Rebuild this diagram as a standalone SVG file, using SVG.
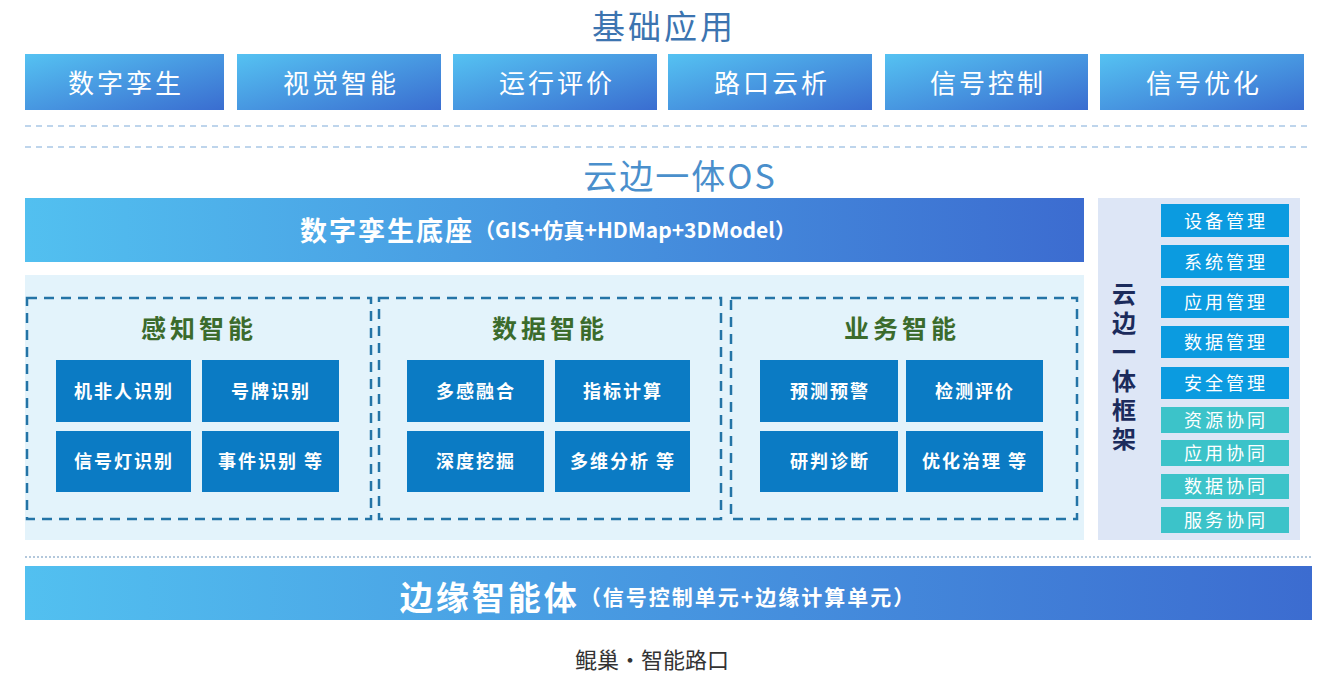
<svg xmlns="http://www.w3.org/2000/svg" width="1325" height="676" viewBox="0 0 1325 676">
<defs>
<linearGradient id="gTop" x1="0" y1="0" x2="1" y2="1"><stop offset="0" stop-color="#55c2f2"/><stop offset="1" stop-color="#3a6dd0"/></linearGradient>
<linearGradient id="gBar" x1="0" y1="0" x2="1" y2="0"><stop offset="0" stop-color="#52c0f0"/><stop offset="1" stop-color="#3c6cd0"/></linearGradient>
<style>
text{font-family:"Noto Sans CJK SC","Noto Sans",sans-serif;text-anchor:middle;dominant-baseline:central}
.top{fill:url(#gTop)}
.tt{fill:#fff;font-size:26px;letter-spacing:3px}
.dash{stroke:#a9c7e6;stroke-width:1.5;stroke-dasharray:6 5;fill:none}
.grp{fill:none;stroke:#2474a6;stroke-width:2.5;stroke-dasharray:10 7}
.gt{fill:#3b6b2c;font-size:25px;font-weight:bold;letter-spacing:4px}
.ib{fill:#0b7bc4}
.it{fill:#fff;font-size:18px;font-weight:bold;letter-spacing:2px}
.mb{fill:#0b9be0}
.cb{fill:#3cc3c9}
.rt{fill:#fff;font-size:18px;letter-spacing:3px}
.vt{fill:#1b2b5c;font-size:24px;font-weight:bold;writing-mode:vertical-rl;text-anchor:start;letter-spacing:5px}
</style>
</defs>
<rect width="1325" height="676" fill="#fff"/>
<text x="664" y="25" style="fill:#3c74b0;font-size:33px;letter-spacing:3px">基础应用</text>
<g id="apps">
<g id="app1"><rect class="top" x="25" y="54" width="199" height="56"/><text class="tt" x="126" y="81">数字孪生</text></g>
<g id="app2"><rect class="top" x="237" y="54" width="204" height="56"/><text class="tt" x="341" y="81">视觉智能</text></g>
<g id="app3"><rect class="top" x="453" y="54" width="204" height="56"/><text class="tt" x="557" y="81">运行评价</text></g>
<g id="app4"><rect class="top" x="668" y="54" width="204" height="56"/><text class="tt" x="772" y="81">路口云析</text></g>
<g id="app5"><rect class="top" x="885" y="54" width="203" height="56"/><text class="tt" x="988" y="81">信号控制</text></g>
<g id="app6"><rect class="top" x="1100" y="54" width="204" height="56"/><text class="tt" x="1204" y="81">信号优化</text></g>
</g>
<line class="dash" x1="25" y1="126" x2="1312" y2="126"/>
<line class="dash" x1="25" y1="147" x2="1312" y2="147"/>
<text x="680" y="174" style="fill:#4a8fcc;font-size:34px;letter-spacing:2px">云边一体OS</text>
<g id="twin"><rect x="25" y="198" width="1059" height="64" fill="url(#gBar)"/>
<text x="548" y="229" style="fill:#fff"><tspan style="font-size:27px;font-weight:bold;letter-spacing:2px">数字孪生底座</tspan><tspan style="font-size:21px;font-weight:bold">（GIS+仿真+HDMap+3DModel）</tspan></text></g>
<rect x="25" y="275" width="1059" height="265" fill="#e3f3fb"/>
<g id="perception">
<rect class="grp" x="27" y="298" width="344" height="221"/>
<text class="gt" x="199" y="327">感知智能</text>
<rect class="ib" x="56" y="360" width="135" height="62"/><text class="it" x="124" y="390">机非人识别</text>
<rect class="ib" x="202" y="360" width="137" height="62"/><text class="it" x="271" y="390">号牌识别</text>
<rect class="ib" x="56" y="431" width="135" height="61"/><text class="it" x="124" y="460">信号灯识别</text>
<rect class="ib" x="202" y="431" width="137" height="61"/><text class="it" x="271" y="460">事件识别 等</text>
</g>
<g id="data">
<rect class="grp" x="379" y="298" width="342" height="221"/>
<text class="gt" x="550" y="327">数据智能</text>
<rect class="ib" x="407" y="360" width="137" height="62"/><text class="it" x="476" y="390">多感融合</text>
<rect class="ib" x="555" y="360" width="135" height="62"/><text class="it" x="623" y="390">指标计算</text>
<rect class="ib" x="407" y="431" width="137" height="61"/><text class="it" x="476" y="460">深度挖掘</text>
<rect class="ib" x="555" y="431" width="135" height="61"/><text class="it" x="623" y="460">多维分析 等</text>
</g>
<g id="business">
<rect class="grp" x="731" y="298" width="346" height="221"/>
<text class="gt" x="902" y="327">业务智能</text>
<rect class="ib" x="760" y="360" width="138" height="62"/><text class="it" x="830" y="390">预测预警</text>
<rect class="ib" x="906" y="360" width="137" height="62"/><text class="it" x="975" y="390">检测评价</text>
<rect class="ib" x="760" y="431" width="138" height="61"/><text class="it" x="830" y="460">研判诊断</text>
<rect class="ib" x="906" y="431" width="137" height="61"/><text class="it" x="975" y="460">优化治理 等</text>
</g>
<g id="framework">
<rect x="1098" y="198" width="202" height="342" fill="#dde6f6"/>
<text class="vt" x="1124" y="282">云边一体框架</text>
<rect class="mb" x="1161" y="204" width="128" height="33"/><text class="rt" x="1226" y="220">设备管理</text>
<rect class="mb" x="1161" y="245" width="128" height="33"/><text class="rt" x="1226" y="261">系统管理</text>
<rect class="mb" x="1161" y="286" width="128" height="32"/><text class="rt" x="1226" y="301">应用管理</text>
<rect class="mb" x="1161" y="326" width="128" height="32"/><text class="rt" x="1226" y="341">数据管理</text>
<rect class="mb" x="1161" y="367" width="128" height="32"/><text class="rt" x="1226" y="382">安全管理</text>
<rect class="cb" x="1161" y="407" width="128" height="26"/><text class="rt" x="1226" y="419">资源协同</text>
<rect class="cb" x="1161" y="440" width="128" height="26"/><text class="rt" x="1226" y="452">应用协同</text>
<rect class="cb" x="1161" y="474" width="128" height="25"/><text class="rt" x="1226" y="485">数据协同</text>
<rect class="cb" x="1161" y="507" width="128" height="26"/><text class="rt" x="1226" y="519">服务协同</text>
</g>
<line x1="25" y1="557" x2="1312" y2="557" style="stroke:#b3c8dc;stroke-width:2;stroke-dasharray:2 2"/>
<g id="edge"><rect x="25" y="566" width="1287" height="54" fill="url(#gBar)"/>
<text x="658" y="596" style="fill:#fff"><tspan style="font-size:33px;font-weight:bold;letter-spacing:3px">边缘智能体</tspan><tspan style="font-size:21px;font-weight:bold;letter-spacing:2px">（信号控制单元+边缘计算单元）</tspan></text></g>
<text x="652" y="658" style="fill:#333;font-size:22px">鲲巢·智能路口</text>
</svg>
